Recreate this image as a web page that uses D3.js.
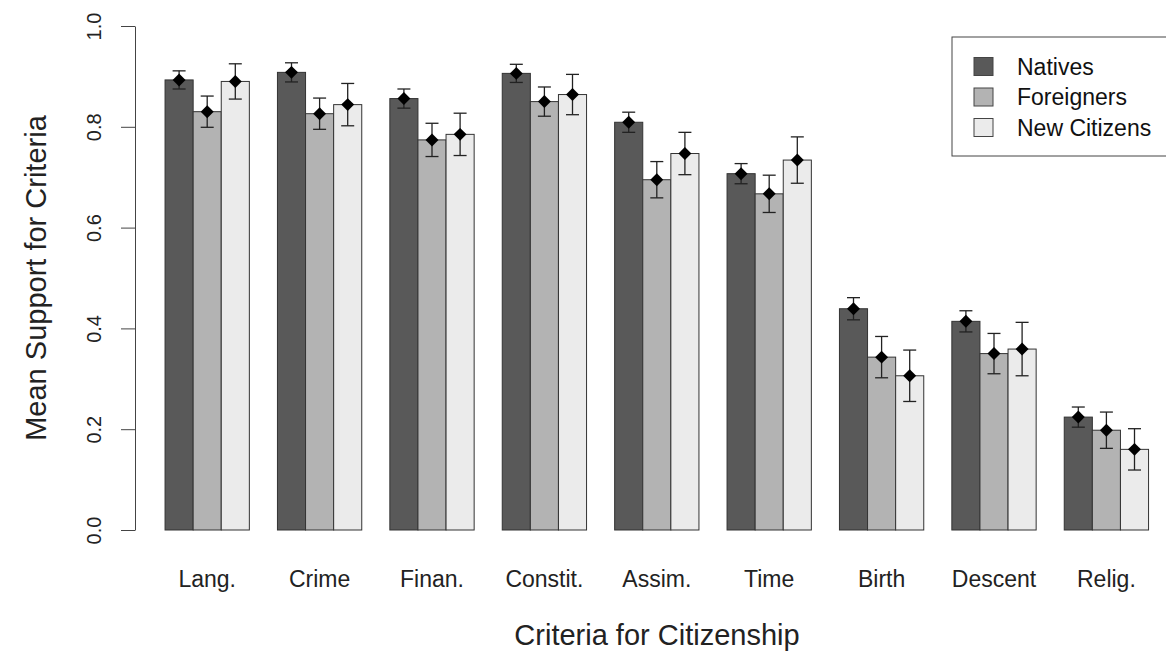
<!DOCTYPE html>
<html>
<head>
<meta charset="utf-8">
<script src="https://cdn.jsdelivr.net/npm/d3@7"></script>
<style>
  html, body { margin: 0; padding: 0; background: #fff; }
  svg { display: block; font-family: "Liberation Sans", Arial, Helvetica, sans-serif; }
</style>
</head>
<body>
<svg id="chart" width="1166" height="651"></svg>
<script>
// Criteria for citizenship and the three respondent groups
const categories = ["Lang.", "Crime", "Finan.", "Constit.", "Assim.", "Time", "Birth", "Descent", "Relig."];
const seriesNames = ["Natives", "Foreigners", "New Citizens"];

// Mean support for each criterion
const natives     = [0.893, 0.908, 0.856, 0.906, 0.809, 0.707, 0.439, 0.414, 0.224];
const foreigners  = [0.830, 0.826, 0.774, 0.850, 0.695, 0.667, 0.343, 0.350, 0.198];
const newCitizens = [0.890, 0.844, 0.785, 0.864, 0.747, 0.734, 0.306, 0.359, 0.160];

// Half-widths of the confidence intervals
const nativesErr     = [0.018, 0.019, 0.019, 0.018, 0.020, 0.020, 0.022, 0.021, 0.020];
const foreignersErr  = [0.031, 0.031, 0.033, 0.029, 0.036, 0.037, 0.041, 0.040, 0.036];
const newCitizensErr = [0.035, 0.042, 0.042, 0.040, 0.042, 0.046, 0.051, 0.053, 0.041];

const yTicks = [0, 0.2, 0.4, 0.6, 0.8, 1.0];
const fills = ["#595959", "#b3b3b3", "#ebebeb"];

const values = [natives, foreigners, newCitizens];
const errors = [nativesErr, foreignersErr, newCitizensErr];

const rows = [];
categories.forEach((c, i) => {
  seriesNames.forEach((s, j) => {
    rows.push({ cat: c, series: s, idx: j, value: values[j][i], err: errors[j][i] });
  });
});

const svg = d3.select("#chart");

const x0 = d3.scaleBand()
  .domain(categories)
  .range([151, 1162.6])
  .paddingInner(0.25)
  .paddingOuter(0.125);

const x1 = d3.scaleBand()
  .domain(seriesNames)
  .range([0, x0.bandwidth()]);

const y = d3.scaleLinear().domain([0, 1]).range([530, 26]);

const color = d3.scaleOrdinal().domain(seriesNames).range(fills);

// Bars
svg.append("g")
  .selectAll("rect")
  .data(rows)
  .join("rect")
  .attr("x", d => x0(d.cat) + x1(d.series))
  .attr("y", d => y(d.value))
  .attr("width", x1.bandwidth())
  .attr("height", d => y(0) - y(d.value))
  .attr("fill", d => color(d.series))
  .attr("stroke", "#333")
  .attr("stroke-width", 1);

// Error bars
const eb = svg.append("g").attr("stroke", "#222").attr("stroke-width", 1.3).attr("fill", "none");
const cx = d => x0(d.cat) + x1(d.series) + x1.bandwidth() / 2;
const capHalf = 6.5;
eb.selectAll("line.v").data(rows).join("line")
  .attr("x1", cx).attr("x2", cx)
  .attr("y1", d => y(d.value - d.err)).attr("y2", d => y(d.value + d.err));
eb.selectAll("line.top").data(rows).join("line")
  .attr("x1", d => cx(d) - capHalf).attr("x2", d => cx(d) + capHalf)
  .attr("y1", d => y(d.value + d.err)).attr("y2", d => y(d.value + d.err));
eb.selectAll("line.bot").data(rows).join("line")
  .attr("x1", d => cx(d) - capHalf).attr("x2", d => cx(d) + capHalf)
  .attr("y1", d => y(d.value - d.err)).attr("y2", d => y(d.value - d.err));

// Filled diamond point marker at each mean
const squareDiamond = {
  draw(context, size) {
    const r = Math.sqrt(size / 2);
    context.moveTo(0, -r);
    context.lineTo(r, 0);
    context.lineTo(0, r);
    context.lineTo(-r, 0);
    context.closePath();
  }
};
svg.append("g")
  .selectAll("path")
  .data(rows)
  .join("path")
  .attr("d", d3.symbol(squareDiamond, 84))
  .attr("transform", d => `translate(${cx(d)},${y(d.value)})`)
  .attr("fill", "#000");

// Y axis
const axisX = 135;
const yAxis = svg.append("g")
  .attr("transform", `translate(${axisX},0)`)
  .call(d3.axisLeft(y).tickValues(yTicks).tickFormat(d3.format(".1f")).tickSize(14).tickSizeOuter(0));
yAxis.select(".domain").attr("stroke", "#444");
yAxis.selectAll(".tick line").attr("stroke", "#444");
yAxis.selectAll(".tick text")
  .attr("transform", "rotate(-90)")
  .attr("x", 0)
  .attr("y", -41)
  .attr("dy", "0.35em")
  .attr("text-anchor", "middle")
  .attr("fill", "#222")
  .style("font-size", "20px")
  .style("font-family", "Liberation Sans, Arial, sans-serif");

// Category labels
svg.append("g")
  .selectAll("text")
  .data(categories)
  .join("text")
  .attr("x", d => x0(d) + x0.bandwidth() / 2)
  .attr("y", 587)
  .attr("text-anchor", "middle")
  .attr("fill", "#222")
  .style("font-size", "23px")
  .text(d => d);

// Axis titles
svg.append("text")
  .attr("x", 657)
  .attr("y", 645)
  .attr("text-anchor", "middle")
  .attr("fill", "#222")
  .style("font-size", "29px")
  .text("Criteria for Citizenship");

svg.append("text")
  .attr("transform", "translate(36,278) rotate(-90)")
  .attr("text-anchor", "middle")
  .attr("dy", "0.35em")
  .attr("fill", "#222")
  .style("font-size", "29px")
  .text("Mean Support for Criteria");

// Legend
const legend = svg.append("g");
legend.append("rect")
  .attr("x", 952).attr("y", 37)
  .attr("width", 240).attr("height", 119)
  .attr("fill", "#fff").attr("stroke", "#444").attr("stroke-width", 1);
const legendRowY = d3.scalePoint().domain(seriesNames).range([66.5, 127.5]);
const lg = legend.selectAll("g.item").data(seriesNames).join("g")
  .attr("transform", d => `translate(0,${legendRowY(d)})`);
lg.append("rect")
  .attr("x", 974).attr("y", -9)
  .attr("width", 19).attr("height", 18)
  .attr("fill", d => color(d)).attr("stroke", "#444");
lg.append("text")
  .attr("x", 1017).attr("dy", "0.35em")
  .attr("fill", "#111")
  .style("font-size", "23px")
  .text(d => d);
</script>
</body>
</html>
